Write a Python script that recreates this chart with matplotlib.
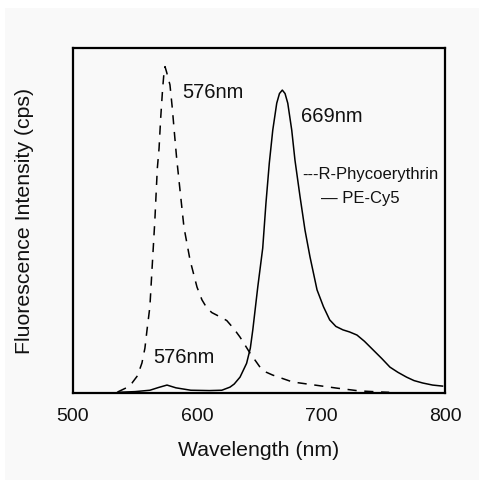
import matplotlib
matplotlib.use('Agg')
import matplotlib.pyplot as plt
from matplotlib.patches import Rectangle

plt.rcParams['font.family'] = ['Liberation Sans', 'DejaVu Sans']

# R-Phycoerythrin emission (dashed), normalised to axis height
rpe_nm = [536, 543, 547.6, 552, 555.6, 558, 559.7, 562, 563.7, 566, 568, 569.4, 570.7,
          572.3, 573.3, 574.2, 575.5, 578.2, 580.1, 581.7, 583.6, 586.3, 589.5, 594.4,
          600, 604, 608, 612, 619, 624, 630, 634.7, 642.7, 650.8, 656, 661, 677, 695,
          713, 731, 747.6, 755]
rpe_int = [0.003, 0.015, 0.029, 0.05, 0.087, 0.13, 0.183, 0.25, 0.357, 0.50, 0.651, 0.709,
           0.796, 0.883, 0.925, 0.946, 0.93, 0.893, 0.825, 0.757, 0.680, 0.588, 0.48,
           0.385, 0.307, 0.27, 0.246, 0.233, 0.22, 0.21, 0.185, 0.162, 0.116, 0.075, 0.06,
           0.052, 0.032, 0.023, 0.014, 0.006, 0.003, 0.002]

# PE-Cy5 emission (solid)
cy5_nm = [536, 550, 562, 569, 575.8, 583, 595, 610, 620, 626.6, 630, 634.7, 640, 643, 645,
          649, 653, 655.6, 658.3, 661.1, 664.3, 666.5, 668.8, 671, 673.2, 676.4, 679,
          683.1, 687.1, 691.1, 696.8, 702, 707, 712, 717.7, 723, 729, 735, 742, 749,
          755.6, 762, 769, 775, 782, 790, 798]
cy5_int = [0.002, 0.004, 0.008, 0.016, 0.023, 0.015, 0.008, 0.007, 0.008, 0.017, 0.026,
           0.046, 0.086, 0.13, 0.183, 0.307, 0.42, 0.55, 0.666, 0.762, 0.840, 0.868, 0.878,
           0.868, 0.840, 0.762, 0.675, 0.569, 0.472, 0.395, 0.299, 0.25, 0.212, 0.193,
           0.183, 0.177, 0.168, 0.150, 0.125, 0.10, 0.075, 0.06, 0.046, 0.036, 0.029, 0.023,
           0.020]

peak_labels = ['576nm', '669nm', '576nm']
peak_pos = [(588, 0.87), (684, 0.80), (565, 0.104)]
legend_labels = ['---R-Phycoerythrin', '\u2014 PE-Cy5']
xticks = [500, 600, 700, 800]

fig = plt.figure(figsize=(4.79, 4.80), dpi=100)
fig.patch.set_facecolor('white')
fig.patches.append(Rectangle((5 / 479, 0), 1, 1 - 8 / 480, transform=fig.transFigure,
                             facecolor='#f9f9f9', edgecolor='none', zorder=-10))

ax = fig.add_axes([73 / 479, 87 / 480, 372 / 479, 345 / 480])
ax.set_facecolor('#f9f9f9')

ax.plot(rpe_nm, rpe_int, color='black', lw=1.1, linestyle=(0, (6, 5)))
ax.plot(cy5_nm, cy5_int, color='black', lw=1.1)

for txt, (x, y) in zip(peak_labels, peak_pos):
    ax.text(x, y, txt, fontsize=14.5, ha='left', va='center', color='#111111')

ax.text(684.5, 0.632, legend_labels[0], fontsize=12, ha='left', va='center', color='#111111')
ax.text(700, 0.565, legend_labels[1], fontsize=12, ha='left', va='center', color='#111111')

ax.set_xlim(500, 800)
ax.set_ylim(0, 1)
ax.set_xticks(xticks)
ax.set_yticks([])
ax.tick_params(axis='x', length=0, pad=10.5, labelsize=14, labelcolor='#111111')
for s in ax.spines.values():
    s.set_linewidth(1.6)

ax.set_xlabel('Wavelength (nm)', fontsize=15.3, labelpad=12, color='#111111')
ax.set_ylabel('Fluorescence Intensity (cps)', fontsize=15.3, color='#111111')
ax.yaxis.set_label_coords(-0.105, 0.5)

fig.savefig('out.png', dpi=100, facecolor=fig.get_facecolor())
